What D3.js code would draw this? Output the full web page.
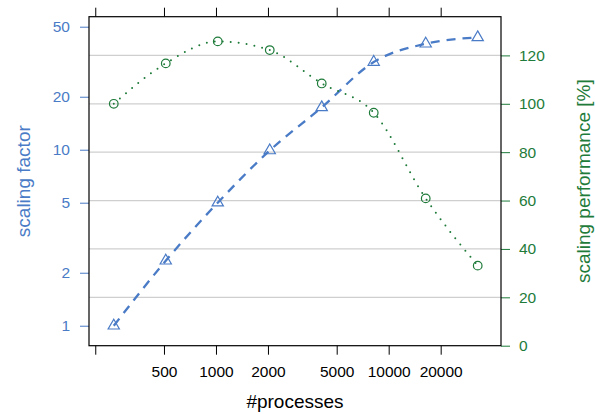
<!DOCTYPE html>
<html><head><meta charset="utf-8">
<script src="https://cdn.jsdelivr.net/npm/d3@7"></script>
<style>body{margin:0;background:#fff}svg{display:block;font-family:"Liberation Sans",Arial,sans-serif}</style>
</head><body><svg id="c" width="595" height="414"></svg>
<script>
const processes = [256, 512, 1024, 2048, 4096, 8192, 16384, 32768];
const scalingFactor = [1.0, 2.34, 5.0, 9.9, 17.4, 31.5, 40.0, 43.5];
const scalingPerf = [100, 116.7, 125.8, 122.2, 108.4, 96.3, 60.9, 33.1];
const xTicks = [200, 500, 1000, 2000, 5000, 10000, 20000];
const xTickLabels = ["", "500", "1000", "2000", "5000", "10000", "20000"];
const leftTicks = [1, 2, 5, 10, 20, 50];
const rightTicks = [0, 20, 40, 60, 80, 100, 120];

const blue = "#4a7bc6", green = "#1e7b3a";
const L = 89, T = 16.7, R = 501, B = 345.7;
const svg = d3.select("#c");
const x = d3.scaleLog().domain([184, 44700]).range([L, R]);
const yL = d3.scaleLog().domain([0.77, 57]).range([B, T]);
const yR = d3.scaleLinear().domain([0, 136]).range([B, T]);

// gridlines
svg.append("g").selectAll("line").data(rightTicks.filter(d => d > 0)).join("line")
  .attr("x1", L).attr("x2", R).attr("y1", d => yR(d)).attr("y2", d => yR(d))
  .attr("stroke", "#cfcfcf").attr("stroke-width", 1.3);

// axes
const fs = "15.5px";
const axB = svg.append("g").attr("transform", `translate(0,${B})`)
  .call(d3.axisBottom(x).tickValues(xTicks).tickFormat((d, i) => xTickLabels[i]).tickSizeOuter(0).tickSize(9).tickPadding(11));
const axT = svg.append("g").attr("transform", `translate(0,${T})`)
  .call(d3.axisTop(x).tickValues(xTicks).tickFormat("").tickSizeOuter(0).tickSize(9));
const axL = svg.append("g").attr("transform", `translate(${L},0)`)
  .call(d3.axisLeft(yL).tickValues(leftTicks).tickFormat(d3.format("d")).tickSizeOuter(0).tickSize(9).tickPadding(10));
const axR = svg.append("g").attr("transform", `translate(${R},0)`)
  .call(d3.axisRight(yR).tickValues(rightTicks).tickFormat(d3.format("d")).tickSizeOuter(0).tickSize(9).tickPadding(9));
[axB, axT, axL, axR].forEach(a => { a.select(".domain").remove(); a.selectAll("text").style("font-size", fs).attr("font-family", null); });
axB.selectAll("line").attr("stroke", "#000");
axT.selectAll("line").attr("stroke", "#000");
axL.selectAll("line").attr("stroke", blue); axL.selectAll("text").attr("fill", blue);
axR.selectAll("line").attr("stroke", green); axR.selectAll("text").attr("fill", green);

// panel border
svg.append("rect").attr("x", L).attr("y", T).attr("width", R - L).attr("height", B - T)
  .attr("fill", "none").attr("stroke", "#000").attr("stroke-width", 1.2);

// lines
const lineB = d3.line().x((d, i) => x(processes[i])).y(d => yL(d)).curve(d3.curveMonotoneX);
const lineG = d3.line().x((d, i) => x(processes[i])).y(d => yR(d)).curve(d3.curveMonotoneX);
svg.append("path").attr("d", lineB(scalingFactor)).attr("fill", "none").attr("stroke", blue)
  .attr("stroke-width", 2.3).attr("stroke-dasharray", "9,7");
svg.append("path").attr("d", lineG(scalingPerf)).attr("fill", "none").attr("stroke", green)
  .attr("stroke-width", 2).attr("stroke-linecap", "round").attr("stroke-dasharray", "0,8");

// points
const tri = d3.symbol().type(d3.symbolTriangle).size(55);
svg.append("g").selectAll("path").data(scalingFactor).join("path")
  .attr("transform", (d, i) => `translate(${x(processes[i])},${yL(d)})`)
  .attr("d", tri).attr("fill", "none").attr("stroke", blue).attr("stroke-width", 1.2);
svg.append("g").selectAll("circle").data(scalingPerf).join("circle")
  .attr("cx", (d, i) => x(processes[i])).attr("cy", d => yR(d)).attr("r", 4.3)
  .attr("fill", "none").attr("stroke", green).attr("stroke-width", 1.2);

// titles
svg.append("text").attr("x", (L + R) / 2).attr("y", 408).attr("text-anchor", "middle")
  .style("font-size", "19px").attr("fill", "#000").text("#processes");
svg.append("text").attr("transform", `translate(30,${(T + B) / 2}) rotate(-90)`).attr("text-anchor", "middle")
  .style("font-size", "19px").attr("fill", blue).text("scaling factor");
svg.append("text").attr("transform", `translate(590,${(T + B) / 2}) rotate(-90)`).attr("text-anchor", "middle")
  .style("font-size", "19px").attr("fill", green).text("scaling performance [%]");
</script></body></html>
